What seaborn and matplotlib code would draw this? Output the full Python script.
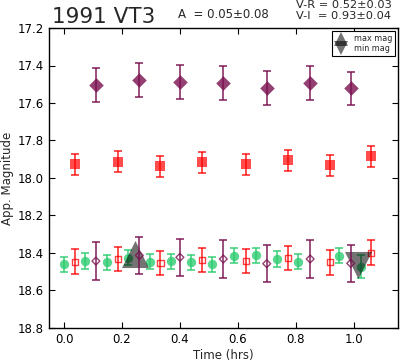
import numpy as np
import pandas as pd
import matplotlib
matplotlib.use("Agg")
import matplotlib.pyplot as plt
from matplotlib.lines import Line2D
import seaborn as sns

# R band (filled squares, top) and R-offset (open squares, bottom)
t_r = [0.037, 0.187, 0.333, 0.476, 0.628, 0.774, 0.918, 1.061]
mag_r = [17.927, 17.913, 17.936, 17.916, 17.927, 17.906, 17.932, 17.883]
err_r = [0.056, 0.056, 0.056, 0.056, 0.056, 0.056, 0.056, 0.056]
mag_r_shift = [18.446, 18.432, 18.452, 18.437, 18.443, 18.425, 18.450, 18.398]
err_r_shift = [0.065, 0.065, 0.065, 0.065, 0.065, 0.065, 0.065, 0.065]

# I band (filled diamonds, top) and shifted (open diamonds, bottom)
t_i = [0.11, 0.26, 0.40, 0.55, 0.70, 0.85, 0.99]
mag_i = [17.505, 17.477, 17.488, 17.492, 17.52, 17.495, 17.522]
err_i = [0.09, 0.09, 0.09, 0.09, 0.09, 0.09, 0.09]
mag_i_shift = [18.443, 18.413, 18.423, 18.432, 18.457, 18.432, 18.455]
err_i_shift = [0.10, 0.10, 0.10, 0.10, 0.10, 0.10, 0.10]

# V band (green circles)
t_v = [0.0, 0.072, 0.149, 0.221, 0.297, 0.369, 0.440, 0.511, 0.587, 0.662, 0.737, 0.808, 0.949, 1.024]
mag_v = [18.461, 18.441, 18.450, 18.425, 18.446, 18.444, 18.450, 18.459, 18.414, 18.411, 18.432, 18.446, 18.414, 18.473]
err_v = [0.042, 0.042, 0.04, 0.04, 0.04, 0.04, 0.04, 0.04, 0.04, 0.04, 0.042, 0.04, 0.04, 0.06]

# max / min magnitude markers
t_max, mag_max = [0.245], [18.405]
t_min, mag_min = [1.015], [18.465]

purple = "#7a1050"
red = "#ff0000"
green = "#2ecc71"

sns.set_style("ticks")
plt.rcParams["font.family"] = ["DejaVu Sans"]

fig = plt.figure(figsize=(4.01, 3.62), dpi=100)
ax = fig.add_axes([49 / 401, 34 / 362, 349.5 / 401, 300 / 362])

# gray triangles underneath
sns.scatterplot(x=t_max, y=mag_max, marker="^", s=380, color="k", alpha=0.55, linewidth=0, ax=ax, zorder=3)
sns.scatterplot(x=t_min, y=mag_min, marker="v", s=380, color="k", alpha=0.55, linewidth=0, ax=ax, zorder=3)

# V
ax.errorbar(t_v, mag_v, yerr=err_v, fmt="none", ecolor=green, elinewidth=1.3, capsize=3, capthick=1.3, alpha=0.8, zorder=2)
sns.scatterplot(x=t_v, y=mag_v, marker="o", s=45, color=green, alpha=0.8, linewidth=0, ax=ax, zorder=2)

# R
ax.errorbar(t_r, mag_r, yerr=err_r, fmt="none", ecolor=red, elinewidth=1.3, capsize=3, capthick=1.3, alpha=0.75, zorder=2)
sns.scatterplot(x=t_r, y=mag_r, marker="s", s=42, color=red, alpha=0.7, linewidth=0, ax=ax, zorder=2)
ax.errorbar(t_r, mag_r_shift, yerr=err_r_shift, fmt="none", ecolor=red, elinewidth=1.3, capsize=3, capthick=1.3, alpha=0.75, zorder=2)
sns.scatterplot(x=t_r, y=mag_r_shift, marker="s", s=20, facecolor="none", edgecolor=red, linewidth=1.0, alpha=0.75, ax=ax, zorder=2)

# I
ax.errorbar(t_i, mag_i, yerr=err_i, fmt="none", ecolor=purple, elinewidth=1.3, capsize=3, capthick=1.3, alpha=0.8, zorder=4)
sns.scatterplot(x=t_i, y=mag_i, marker="D", s=55, color=purple, alpha=0.8, linewidth=0, ax=ax, zorder=4)
ax.errorbar(t_i, mag_i_shift, yerr=err_i_shift, fmt="none", ecolor=purple, elinewidth=1.3, capsize=3, capthick=1.3, alpha=0.8, zorder=4)
sns.scatterplot(x=t_i, y=mag_i_shift, marker="D", s=16, facecolor="none", edgecolor=purple, linewidth=1.0, alpha=0.8, ax=ax, zorder=4)

ax.set_xlim(-0.052, 1.155)
ax.set_ylim(18.8, 17.2)
ax.set_xticks([0.0, 0.2, 0.4, 0.6, 0.8, 1.0])
ax.set_yticks(np.arange(17.2, 18.81, 0.2))
ax.set_yticklabels(["17.2", "17.4", "17.6", "17.8", "18.0", "18.2", "18.4", "18.6", "18.8"])
ax.tick_params(direction="in", top=True, right=True, labelsize=8.5, length=4, width=0.8, colors="k")
for sp in ax.spines.values():
    sp.set_linewidth(1.0)
    sp.set_color("k")

ax.set_xlabel("Time (hrs)", fontsize=8.5, labelpad=2)
ax.set_ylabel("App. Magnitude", fontsize=8.5, labelpad=3)

fig.text(52 / 401, 1 - 23 / 362, "1991 VT3", fontsize=15.5, ha="left", va="baseline")
fig.text(178 / 401, 1 - 18 / 362, "A  = 0.05\u00b10.08", fontsize=8.5, ha="left", va="baseline")
fig.text(296 / 401, 1 - 7.5 / 362, "V-R = 0.52\u00b10.03", fontsize=8.2, ha="left", va="baseline")
fig.text(296 / 401, 1 - 19 / 362, "V-I  = 0.93\u00b10.04", fontsize=8.2, ha="left", va="baseline")

handles = [
    Line2D([], [], marker="^", color="k", alpha=0.55, linestyle="none", markersize=10, markeredgewidth=0),
    Line2D([], [], marker="v", color="k", alpha=0.55, linestyle="none", markersize=10, markeredgewidth=0),
]
leg = ax.legend(handles, ["max mag", "min mag"], loc="upper right", fontsize=5.8, frameon=True,
                fancybox=False, edgecolor="k", framealpha=1, labelspacing=0.1, handletextpad=0.8,
                borderaxespad=0.4, handlelength=1.5)
leg.get_frame().set_linewidth(0.8)

fig.savefig("out.png", dpi=100)
